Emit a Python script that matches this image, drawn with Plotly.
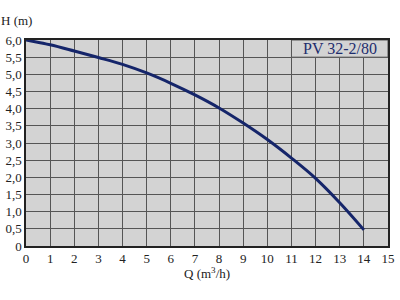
import plotly.graph_objects as go

Q = [0, 1, 2, 3, 4, 5, 6, 7, 8, 9, 10, 11, 12, 13, 14]
H = [6.0, 5.86, 5.68, 5.49, 5.29, 5.04, 4.74, 4.40, 4.02, 3.58, 3.10, 2.56, 1.97, 1.26, 0.47]
x_ticks = list(range(0, 16))
x_labels = [str(v) for v in x_ticks]
y_ticks = [i * 0.5 for i in range(13)]
y_labels = ["0"] + [f"{v:.1f}".replace(".", ",") for v in y_ticks[1:]]
model = "PV 32-2/80"

grid = "#555555"
bg = "#d3d3d3"
font = "Liberation Serif"

fig = go.Figure()
fig.add_trace(go.Scatter(x=Q, y=H, mode="lines", line=dict(color="#15256a", width=3, shape="spline"),
                         hoverinfo="skip"))

fig.add_shape(type="rect", xref="x", yref="y", x0=11, x1=15, y0=5.5, y1=6.0,
              fillcolor=bg, line=dict(color=grid, width=1), layer="above")
fig.add_annotation(x=13, y=5.75, xref="x", yref="y", text=model, showarrow=False,
                   font=dict(family=font, size=16, color="#1e2d6e"))

fig.update_layout(
    width=400, height=300,
    margin=dict(l=25, r=5, t=40, b=54),
    paper_bgcolor="white", plot_bgcolor=bg,
    showlegend=False,
    font=dict(family=font, size=13, color="#222222"),
    xaxis=dict(range=[0, 15], tickvals=x_ticks, ticktext=x_labels, showgrid=True,
               gridcolor=grid, gridwidth=1, zeroline=False, showline=True, linecolor="#222222",
               linewidth=1.5, mirror=True, ticks="", ticklen=0, fixedrange=True,
               tickfont=dict(family=font, size=13)),
    yaxis=dict(range=[0, 6], tickvals=y_ticks, ticktext=y_labels, showgrid=True,
               gridcolor=grid, gridwidth=1, zeroline=False, showline=True, linecolor="#222222",
               linewidth=1.5, mirror=True, ticks="", ticklen=0, fixedrange=True,
               tickfont=dict(family=font, size=13)),
)
fig.add_annotation(x=0, y=1, xref="paper", yref="paper", xanchor="center", yanchor="bottom",
                   xshift=-10, yshift=10, text="H (m)", showarrow=False,
                   font=dict(family=font, size=13, color="#222222"))
fig.add_annotation(x=0.5, y=0, xref="paper", yref="paper", xanchor="center", yanchor="top",
                   yshift=-17, text="Q (m<sup>3</sup>/h)", showarrow=False,
                   font=dict(family=font, size=13, color="#222222"))

fig.write_html("out.html", config=dict(displayModeBar=False))
